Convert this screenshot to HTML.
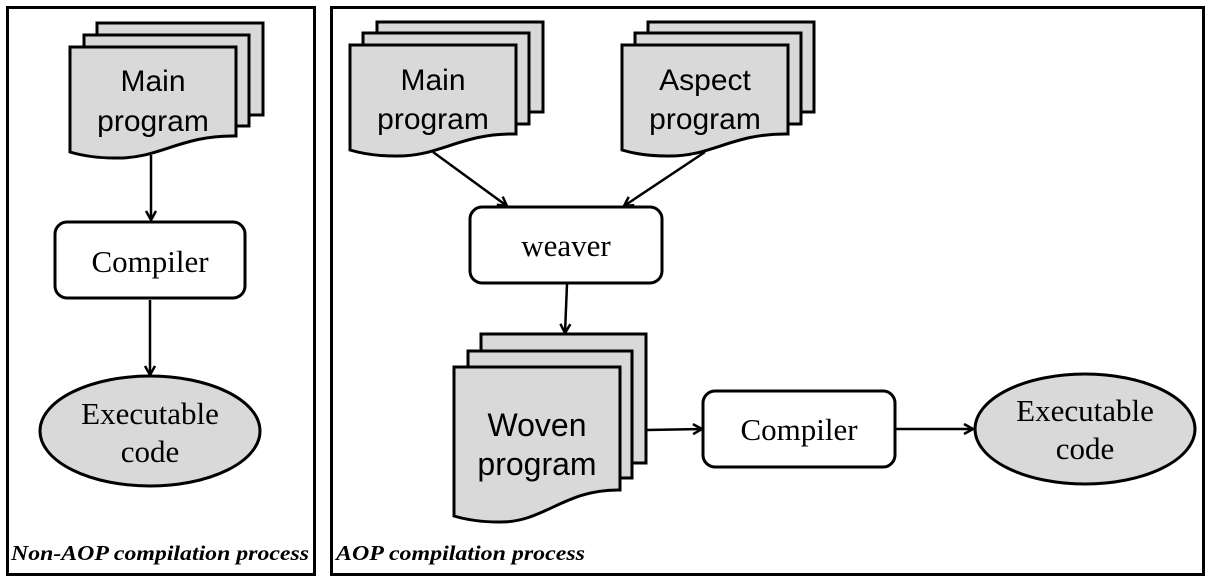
<!DOCTYPE html>
<html><head><style>
body{margin:0;background:#fff;}
svg{display:block}
.doc{fill:#d9d9d9;stroke:#000;stroke-width:3}
.box{fill:#fff;stroke:#000;stroke-width:3}
.ar{stroke:#000;stroke-width:2.5;fill:none;marker-end:url(#a)}
.sans{font-family:"Liberation Sans",Arial,sans-serif;font-size:30px;text-anchor:middle}
.serif{font-family:"Liberation Serif",serif;font-size:31px;text-anchor:middle}
.lab{font-family:"Liberation Serif",serif;font-size:21px;font-weight:bold;font-style:italic}
</style></head><body>
<svg width="1209" height="579" viewBox="0 0 1209 579" xmlns="http://www.w3.org/2000/svg">
<defs>
<marker id="a" markerWidth="12" markerHeight="12" refX="10" refY="6" orient="auto" markerUnits="userSpaceOnUse">
<path d="M1,1 L10,6 L1,11" fill="none" stroke="#000" stroke-width="2.5"/>
</marker>
<path id="fr" d="M0,0 H166 V89 C110,88 90,112 45,111 C25,111 10,108 0,105 Z"/>
<path id="fw" d="M0,0 H166 V123 C110,122 90,156 45,155 C25,155 10,152 0,149 Z"/>
</defs>
<rect x="7.5" y="7.5" width="307" height="567" fill="none" stroke="#000" stroke-width="3"/>
<rect x="331.5" y="7.5" width="872" height="567" fill="none" stroke="#000" stroke-width="3"/>

<!-- left stack -->
<rect x="97" y="23" width="166" height="92" class="doc"/>
<rect x="84" y="35" width="165" height="91" class="doc"/>
<use href="#fr" class="doc" transform="translate(70,47)"/>
<text class="sans" x="153" y="91">Main</text>
<text class="sans" x="153" y="131">program</text>
<line class="ar" x1="151" y1="155" x2="151" y2="220"/>
<rect class="box" x="55" y="222" width="190" height="76" rx="12"/>
<text class="serif" x="150" y="272">Compiler</text>
<line class="ar" x1="150" y1="300" x2="150" y2="375"/>
<ellipse cx="150" cy="431" rx="110" ry="55" class="doc"/>
<text class="serif" x="150" y="424">Executable</text>
<text class="serif" x="150" y="462">code</text>
<text class="lab" x="11" y="560" textLength="298" lengthAdjust="spacingAndGlyphs">Non-AOP compilation process</text>

<!-- right main -->
<rect x="377" y="22" width="166" height="90" class="doc"/>
<rect x="363" y="33" width="166" height="91" class="doc"/>
<use href="#fr" class="doc" transform="translate(350,45)"/>
<text class="sans" x="433" y="90">Main</text>
<text class="sans" x="433" y="129">program</text>
<!-- aspect -->
<rect x="648" y="22" width="166" height="90" class="doc"/>
<rect x="635" y="33" width="166" height="91" class="doc"/>
<use href="#fr" class="doc" transform="translate(622,45)"/>
<text class="sans" x="705" y="90">Aspect</text>
<text class="sans" x="705" y="129">program</text>
<line class="ar" x1="433" y1="152" x2="507" y2="206"/>
<line class="ar" x1="705" y1="152" x2="624" y2="206"/>
<rect class="box" x="470" y="207" width="192" height="76" rx="12"/>
<text class="serif" x="566" y="256">weaver</text>
<line class="ar" x1="567" y1="284" x2="565" y2="333"/>
<!-- woven -->
<rect x="481" y="334" width="165" height="129" class="doc"/>
<rect x="468" y="351" width="164" height="127" class="doc"/>
<use href="#fw" class="doc" transform="translate(454,367)"/>
<text class="sans" x="537" y="436" style="font-size:32px">Woven</text>
<text class="sans" x="537" y="475" style="font-size:32px">program</text>
<line class="ar" x1="647" y1="430" x2="702" y2="429"/>
<rect class="box" x="703" y="391" width="192" height="76" rx="12"/>
<text class="serif" x="799" y="440">Compiler</text>
<line class="ar" x1="896" y1="429" x2="973" y2="429"/>
<ellipse cx="1085" cy="429" rx="110" ry="55" class="doc"/>
<text class="serif" x="1085" y="421">Executable</text>
<text class="serif" x="1085" y="459">code</text>
<text class="lab" x="336" y="560" textLength="249" lengthAdjust="spacingAndGlyphs">AOP compilation process</text>
</svg>
</body></html>
